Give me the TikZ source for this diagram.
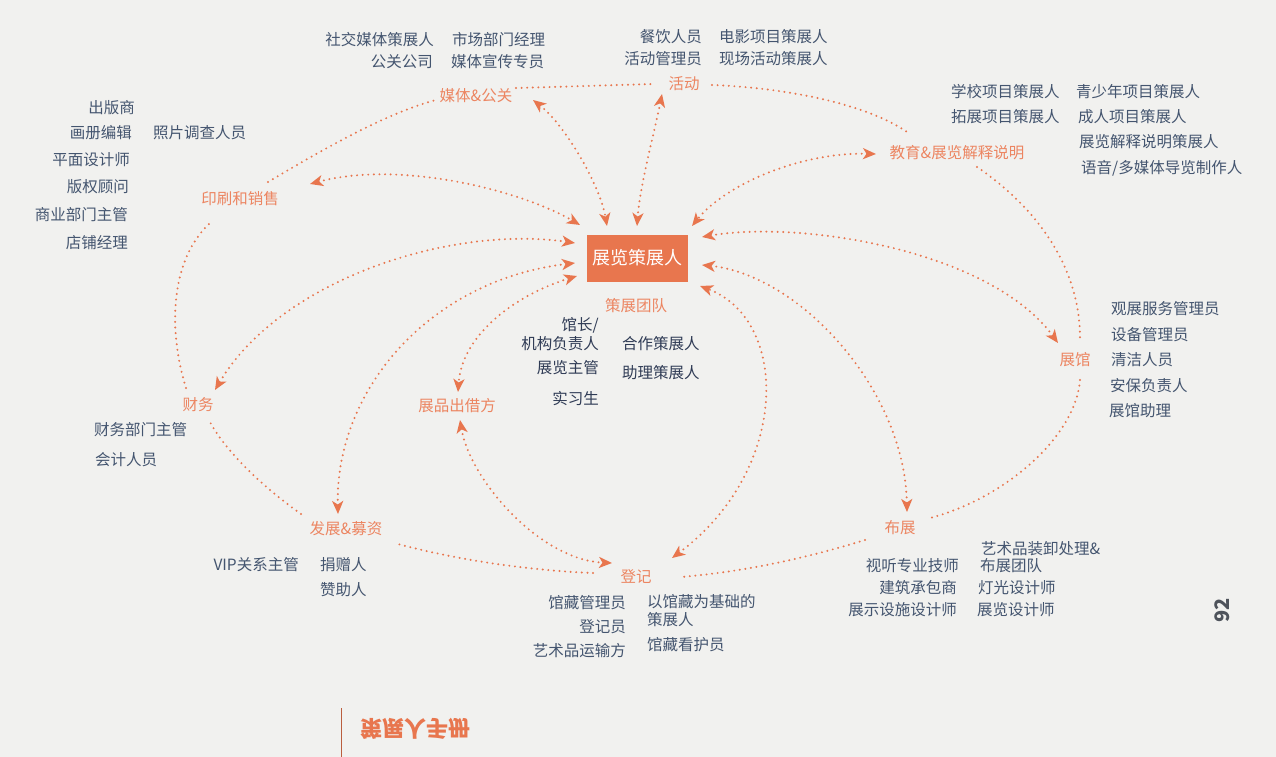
\documentclass[tikz,border=0pt]{standalone}
\usepackage{fontspec}
\setmainfont{Noto Sans CJK SC}
\usetikzlibrary{arrows.meta, calc}
\definecolor{corange}{HTML}{E8764E}
\definecolor{clabel}{HTML}{EC8561}
\definecolor{cslate}{HTML}{44556F}
\definecolor{cnavy}{HTML}{2F3B55}
\definecolor{cpaper}{HTML}{F1F1EF}
\definecolor{cgrey}{HTML}{4E535B}
\tikzset{
  hub/.style={fill=corange, text=white, minimum width=101pt, minimum height=47pt, font=\fontsize{18}{20}\selectfont},
  topic/.style={text=clabel, font=\fontsize{15.5}{18}\selectfont, inner sep=2pt},
  role/.style={text=cslate, font=\fontsize{15.5}{18}\selectfont, inner sep=1pt},
  crew/.style={role, text=cnavy},
  dots/.style={draw=corange, line width=2.2pt, line cap=round, dash pattern=on 0pt off 5.6pt},
  link/.style={dots, {Stealth[length=13pt,width=11pt,inset=3.5pt]}-{Stealth[length=13pt,width=11pt,inset=3.5pt]}},
}
\begin{document}
\begin{tikzpicture}[x=1pt, y=-1pt]
  \fill[cpaper] (0,0) rectangle (1276,757);
  \useasboundingbox (0,0) rectangle (1276,757);
  % hub and topics
  \node[hub] (hub) at (637,258) {展览策展人};
  \node[topic] (team) at (636,306) {策展团队};
  \node[topic] (prt) at (240,199) {印刷和销售};
  \node[topic] (med) at (476,96) {媒体\&公关};
  \node[topic] (act) at (684,84) {活动};
  \node[topic] (edu) at (957,153) {教育\&展览解释说明};
  \node[topic] (hall) at (1075,360) {展馆};
  \node[topic] (ins) at (900,528) {布展};
  \node[topic] (reg) at (636,577) {登记};
  \node[topic] (dev) at (346,529) {发展\&募资};
  \node[topic] (fin) at (198,405) {财务};
  \node[topic] (lend) at (457,406) {展品出借方};
  % printing and sales
  \node[role, anchor=east] (prt1) at (136,108) {出版商};
  \node[role, anchor=east] (prt2) at (133,133) {画册编辑};
  \node[role, anchor=west] (prt3) at (152,133) {照片调查人员};
  \node[role, anchor=east] (prt4) at (131,160) {平面设计师};
  \node[role, anchor=east] (prt5) at (130,187) {版权顾问};
  \node[role, anchor=east] (prt6) at (129,215) {商业部门主管};
  \node[role, anchor=east] (prt7) at (129,243) {店铺经理};
  % media
  \node[role, anchor=east] (med1) at (435,40) {社交媒体策展人};
  \node[role, anchor=west] (med2) at (451,40) {市场部门经理};
  \node[role, anchor=east] (med3) at (434,62) {公关公司};
  \node[role, anchor=west] (med4) at (450,62) {媒体宣传专员};
  % events
  \node[role, anchor=east] (act1) at (703,37) {餐饮人员};
  \node[role, anchor=west] (act2) at (718,37) {电影项目策展人};
  \node[role, anchor=east] (act3) at (703,59) {活动管理员};
  \node[role, anchor=west] (act4) at (718,59) {现场活动策展人};
  % education
  \node[role, anchor=west] (edu1) at (950,92) {学校项目策展人};
  \node[role, anchor=west] (edu2) at (1075,92) {青少年项目策展人};
  \node[role, anchor=west] (edu3) at (950,117) {拓展项目策展人};
  \node[role, anchor=west] (edu4) at (1077,117) {成人项目策展人};
  \node[role, anchor=west] (edu5) at (1078,142) {展览解释说明策展人};
  \node[role, anchor=west] (edu6) at (1080,168) {语音/多媒体导览制作人};
  % venue
  \node[role, anchor=west] (hall1) at (1110,309) {观展服务管理员};
  \node[role, anchor=west] (hall2) at (1110,335) {设备管理员};
  \node[role, anchor=west] (hall3) at (1110,360) {清洁人员};
  \node[role, anchor=west] (hall4) at (1109,386) {安保负责人};
  \node[role, anchor=west] (hall5) at (1108,411) {展馆助理};
  % installation
  \node[role, anchor=west] (ins1) at (980,549) {艺术品装卸处理\&};
  \node[role, anchor=west] (ins2) at (979,566) {布展团队};
  \node[role, anchor=east] (ins3) at (960,566) {视听专业技师};
  \node[role, anchor=east] (ins4) at (958,588) {建筑承包商};
  \node[role, anchor=west] (ins5) at (977,588) {灯光设计师};
  \node[role, anchor=east] (ins6) at (958,610) {展示设施设计师};
  \node[role, anchor=west] (ins7) at (976,610) {展览设计师};
  % registration
  \node[role, anchor=east] (reg1) at (627,603) {馆藏管理员};
  \node[role, anchor=west] (reg2) at (646,602) {以馆藏为基础的};
  \node[role, anchor=west] (reg3) at (646,620) {策展人};
  \node[role, anchor=east] (reg4) at (627,627) {登记员};
  \node[role, anchor=east] (reg5) at (627,651) {艺术品运输方};
  \node[role, anchor=west] (reg6) at (646,645) {馆藏看护员};
  % development
  \node[role, anchor=east] (dev1) at (300,565) {VIP关系主管};
  \node[role, anchor=west] (dev2) at (319,565) {捐赠人};
  \node[role, anchor=west] (dev3) at (319,590) {赞助人};
  % finance
  \node[role, anchor=west] (fin1) at (93,430) {财务部门主管};
  \node[role, anchor=west] (fin2) at (94,460) {会计人员};
  % team
  \node[crew, anchor=east] (team1) at (600,325) {馆长/};
  \node[crew, anchor=east] (team2) at (600,344) {机构负责人};
  \node[crew, anchor=west] (team3) at (621,344) {合作策展人};
  \node[crew, anchor=east] (team4) at (600,368) {展览主管};
  \node[crew, anchor=west] (team5) at (621,373) {助理策展人};
  \node[crew, anchor=east] (team6) at (600,399) {实习生};
  % links to the hub
  \draw[link] ($(prt)+(70,-15)$) .. controls (400,160) and (520,190) .. ($(hub)+(-57,-33)$);
  \draw[link] ($(med)+(57,4)$) .. controls (565,125) and (600,185) .. ($(hub)+(-30,-32)$);
  \draw[link] ($(act)+(-22,10)$) .. controls (655,130) and (640,185) .. ($(hub)+(0,-32)$);
  \draw[link] ($(edu)+(-81,1)$) .. controls (800,152) and (725,185) .. ($(hub)+(55,-32)$);
  \draw[link] ($(hub)+(65,-21)$) .. controls (800,220) and (990,250) .. ($(hall)+(-17,-17)$);
  \draw[link] ($(hub)+(-62,-15)$) .. controls (450,225) and (280,280) .. ($(fin)+(17,-15)$);
  \draw[link] ($(hub)+(-62,5)$) .. controls (430,280) and (335,390) .. ($(dev)+(-8,-15)$);
  \draw[link] ($(hub)+(-60,18)$) .. controls (515,295) and (462,335) .. ($(lend)+(1,-14)$);
  \draw[link] ($(lend)+(3,14)$) .. controls (470,480) and (540,560) .. ($(reg)+(-24,-14)$);
  \draw[link] ($(reg)+(36,-19)$) .. controls (790,470) and (790,320) .. ($(hub)+(63,28)$);
  \draw[link] ($(hub)+(65,7)$) .. controls (800,275) and (905,390) .. ($(ins)+(7,-16)$);
  % outer ring
  \draw[dots] ($(prt)+(28,-17)$) .. controls (330,145) and (390,112) .. ($(med)+(-40,4)$);
  \draw[dots] ($(med)+(40,-8)$) -- ($(act)+(-30,0)$);
  \draw[dots] ($(act)+(28,1)$) .. controls (790,88) and (870,105) .. ($(edu)+(-47,-19)$);
  \draw[dots] ($(edu)+(20,14)$) .. controls (1040,210) and (1080,270) .. ($(hall)+(5,-22)$);
  \draw[dots] ($(hall)+(5,20)$) .. controls (1075,440) and (1000,500) .. ($(ins)+(30,-10)$);
  \draw[dots] ($(ins)+(-35,12)$) .. controls (800,560) and (740,572) .. ($(reg)+(45,0)$);
  \draw[dots] ($(reg)+(-43,-4)$) .. controls (520,570) and (450,558) .. ($(dev)+(52,15)$);
  \draw[dots] ($(dev)+(-45,-15)$) .. controls (260,485) and (225,450) .. ($(fin)+(12,17)$);
  \draw[dots] ($(fin)+(-12,-17)$) .. controls (168,330) and (170,260) .. ($(prt)+(-30,24)$);
  % page furniture
  \draw[corange!80!black, line width=1pt] (341,708) -- (341,757);
  \node[text=corange, font=\fontsize{22}{24}\selectfont\bfseries, yscale=-1, transform shape] (book) at (415,729) {策展人手册};
  \node[text=cgrey, font=\fontsize{20}{22}\selectfont\bfseries, rotate=90] (page) at (1222,610) {92};
\end{tikzpicture}
\end{document}
